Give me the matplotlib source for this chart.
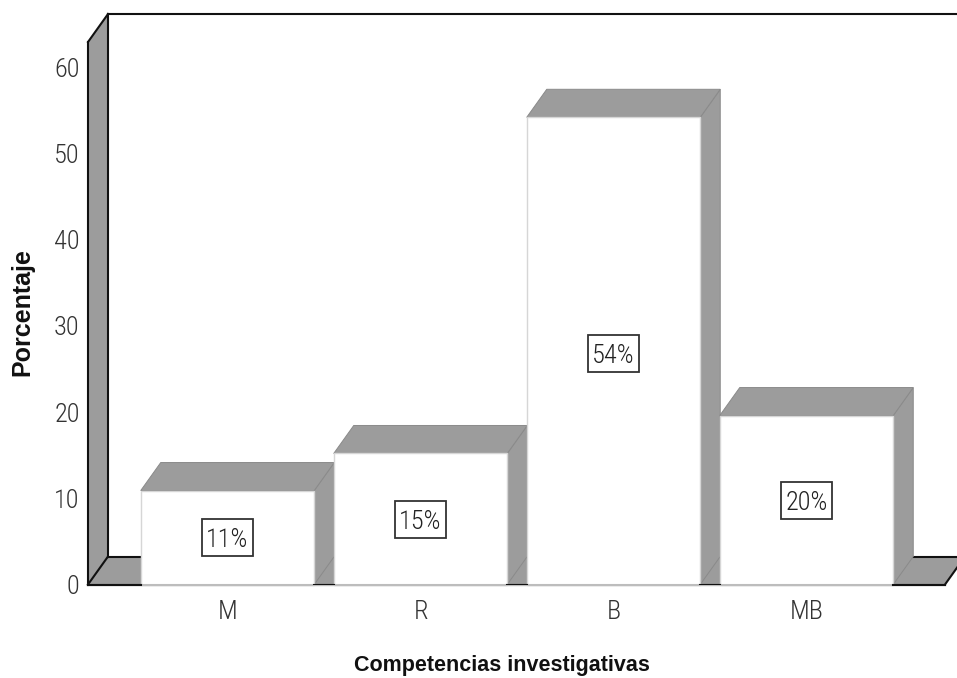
import matplotlib
matplotlib.use("Agg")
import matplotlib.pyplot as plt
from matplotlib.patches import Polygon, Rectangle

categories = ["M", "R", "B", "MB"]
values = [10.9, 15.2, 54.2, 19.6]
labels = ["11%", "15%", "54%", "20%"]
label_pos = [5.4, 7.5, 26.8, 9.8]
yticks = [0, 10, 20, 30, 40, 50, 60]

W, H = 957, 678
GREY = "#9c9c9c"
EDGE = "#8a8a8a"
FONT = ["Roboto Condensed", "Liberation Sans", "DejaVu Sans"]
plt.rcParams["font.family"] = FONT
plt.rcParams["font.weight"] = "light"

# layout in pixels
left, right, base, top = 88, 945, 584.5, 42
step, y_unit = 193.0, 8.62
first_center = 227.5
bar_w = 173.5 / step
dx, dy = 20 / step, 28 / y_unit
box_w, box_h = 51 / step, 37 / y_unit

fig = plt.figure(figsize=(W / 100, H / 100), dpi=100, facecolor="white")
ax = fig.add_axes([left / W, 1 - base / H, (right - left) / W, (base - top) / H])
ax.set_xlim((left - first_center) / step, (right - first_center) / step)
ax.set_ylim(0, (base - top) / y_unit)
ax.patch.set_visible(False)
for s in ax.spines.values():
    s.set_visible(False)

x0, x1 = ax.get_xlim()
ytop = ax.get_ylim()[1]
xback_end = (W + 30 - first_center) / step

# floor
ax.add_patch(Polygon([(x0, 0), (x1, 0), (x1 + dx, dy), (x0 + dx, dy)], closed=True,
                     fc=GREY, ec="none", clip_on=False, zorder=1))
# left wall
ax.add_patch(Polygon([(x0, 0), (x0 + dx, dy), (x0 + dx, ytop + dy), (x0, ytop)], closed=True,
                     fc=GREY, ec="none", clip_on=False, zorder=1))
# frame lines
line = dict(color="#111111", lw=1.5, clip_on=False, zorder=2, solid_capstyle="projecting")
ax.plot([x0, x0], [0, ytop], **line)
ax.plot([x0 + dx, x0 + dx], [dy, ytop + dy], **line)
ax.plot([x0, x0 + dx], [ytop, ytop + dy], **line)
ax.plot([x0, x0 + dx], [0, dy], **line)
ax.plot([x0 + dx, xback_end], [ytop + dy, ytop + dy], **line)
ax.plot([x0 + dx, xback_end], [dy, dy], **line)
ax.plot([x0, x1], [0, 0], **line)
ax.plot([x1, x1 + dx], [0, dy], **line)

# bars
for i, (v, lab, pos) in enumerate(zip(values, labels, label_pos)):
    l, r = i - bar_w / 2, i + bar_w / 2
    ax.add_patch(Polygon([(r, 0), (r + dx, dy), (r + dx, v + dy), (r, v)], closed=True,
                         fc=GREY, ec=EDGE, lw=0.7, clip_on=False, zorder=3))
    ax.add_patch(Polygon([(l, v), (l + dx, v + dy), (r + dx, v + dy), (r, v)], closed=True,
                         fc=GREY, ec=EDGE, lw=0.7, clip_on=False, zorder=3))
    ax.add_patch(Rectangle((l, 0), bar_w, v, fc="white", ec="#d6d6d6", lw=1.0,
                           clip_on=False, zorder=4))
    ax.add_patch(Rectangle((i - box_w / 2, pos - box_h / 2), box_w, box_h, fc="white",
                           ec="#333333", lw=1.3, zorder=6))
    ax.text(i, pos, lab, ha="center", va="center_baseline", fontsize=19, color="#222222", zorder=7)

ax.plot([x0, x1], [0, 0], color="#bdbdbd", lw=1.5, zorder=5, clip_on=False)
for i in range(len(categories) - 1):
    ax.plot([i + bar_w / 2, i + 1 - bar_w / 2], [0, 0], color="#111111", lw=1.5, zorder=5)
ax.plot([x0, -bar_w / 2], [0, 0], color="#111111", lw=1.5, zorder=5, clip_on=False)
ax.plot([len(categories) - 1 + bar_w / 2, x1], [0, 0], color="#111111", lw=1.5, zorder=5, clip_on=False)

ax.set_xticks(range(len(categories)))
ax.set_xticklabels(categories)
ax.set_yticks(yticks)
ax.tick_params(axis="both", length=0, labelsize=19, labelcolor="#333333")
ax.tick_params(axis="x", pad=11)
ax.tick_params(axis="y", pad=6)

fig.text(502 / W, 1 - 665 / H, "Competencias investigativas", ha="center", va="center",
         fontsize=15.5, fontweight="bold", family=["Liberation Sans"], color="#111111")
fig.text(22 / W, 1 - 312 / H, "Porcentaje", ha="center", va="center", rotation=90,
         fontsize=18, fontweight="bold", family=["Liberation Sans"], color="#111111")

fig.savefig("out.png", dpi=100, facecolor="white")
